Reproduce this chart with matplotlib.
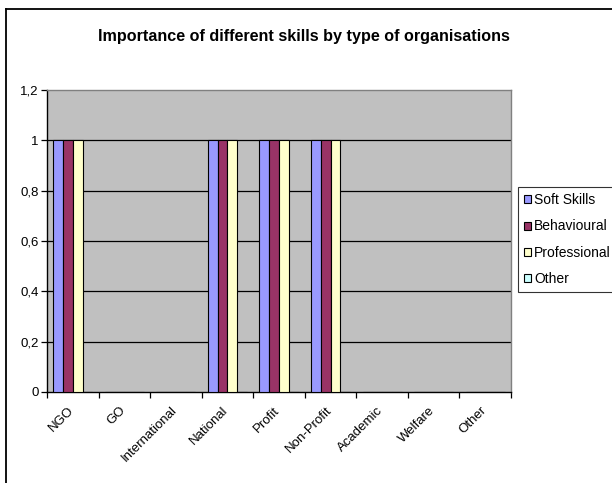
import numpy as np
import matplotlib.pyplot as plt
from matplotlib.lines import Line2D
from matplotlib.ticker import FixedLocator

plt.rcParams['font.family'] = ['Liberation Sans', 'DejaVu Sans']

# organisation types and the skill scores for each
categories = ['NGO', 'GO', 'International', 'National', 'Profit',
              'Non-Profit', 'Academic', 'Welfare', 'Other']
soft_skills = [1, 0, 0, 1, 1, 1, 0, 0, 0]
behavioural = [1, 0, 0, 1, 1, 1, 0, 0, 0]
professional = [1, 0, 0, 1, 1, 1, 0, 0, 0]
other = [0, 0, 0, 0, 0, 0, 0, 0, 0]
y_ticks = [0, 0.2, 0.4, 0.6, 0.8, 1.0, 1.2]
y_labels = ['0', '0,2', '0,4', '0,6', '0,8', '1', '1,2']

series = [('Soft Skills', soft_skills, '#9999ff'),
          ('Behavioural', behavioural, '#993366'),
          ('Professional', professional, '#ffffcc'),
          ('Other', other, '#ccffff')]

W, H = 612, 483
fig = plt.figure(figsize=(W / 100, H / 100), dpi=100)

# outer chart frame (runs off the right and bottom edge)
fig.add_artist(Line2D([6 / W, 6 / W], [0, 1 - 9 / H], color='black', lw=1.3,
                      transform=fig.transFigure))
fig.add_artist(Line2D([6 / W, 1], [1 - 9 / H, 1 - 9 / H], color='black', lw=1.3,
                      transform=fig.transFigure))

ax = fig.add_axes([47 / W, 1 - 392 / H, (511 - 47) / W, (392 - 90) / H])
ax.set_facecolor('#c0c0c0')

x = np.arange(len(categories))
bw = 0.19
for i, (name, vals, col) in enumerate(series):
    ax.bar(x + (i - 1.5) * bw, vals, width=bw, color=col, edgecolor='black',
           linewidth=0.8, label=name, zorder=3)

ax.set_xlim(-0.5, len(categories) - 0.5)
ax.set_ylim(0, 1.2)

ax.set_yticks(y_ticks)
ax.set_yticklabels(y_labels, fontsize=9.5)
for yv in y_ticks[1:-1]:
    ax.axhline(yv, color='black', lw=0.9, zorder=1)

# category labels sit a little left of the group centre
ax.set_xticks(x - 0.1)
ax.set_xticklabels(categories, fontsize=9.5, rotation=45, ha='right',
                   rotation_mode='anchor')
ax.xaxis.set_minor_locator(FixedLocator(np.arange(-0.5, len(categories), 1.0)))
ax.tick_params(axis='x', which='major', length=0, pad=9)
ax.tick_params(axis='x', which='minor', length=4, direction='out', width=0.9)
ax.tick_params(axis='y', length=4, direction='out', width=0.9, pad=2)

for s in ['left', 'bottom']:
    ax.spines[s].set_color('black')
    ax.spines[s].set_linewidth(1.0)
for s in ['top', 'right']:
    ax.spines[s].set_color('#808080')
    ax.spines[s].set_linewidth(1.0)

fig.text(304 / W, 1 - 37 / H, 'Importance of different skills by type of organisations',
         ha='center', va='center', fontsize=11.6, fontweight='bold')

leg = fig.legend(loc='upper left', bbox_to_anchor=(518 / W, 1 - 187 / H),
                 fontsize=10, frameon=True, fancybox=False, handlelength=0.5,
                 handleheight=0.5, handletextpad=0.2, labelspacing=0.88,
                 borderpad=0.45, borderaxespad=0)
leg.get_frame().set_edgecolor('black')
leg.get_frame().set_linewidth(0.8)

fig.savefig('out.png', dpi=100)
